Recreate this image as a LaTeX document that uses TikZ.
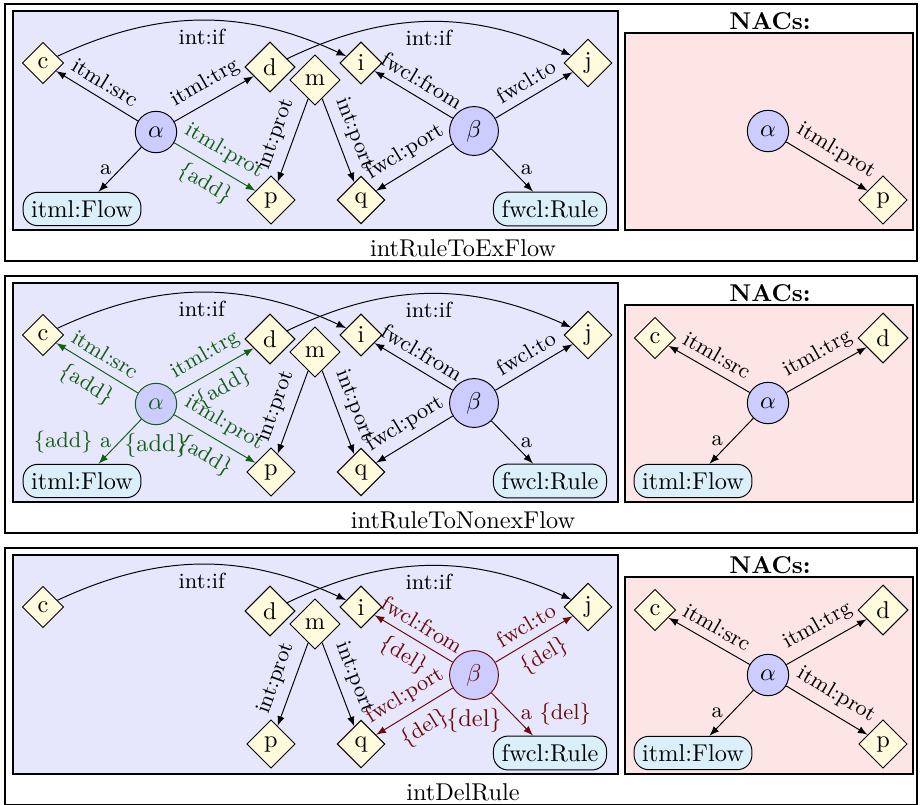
\documentclass[tikz,border=0pt]{standalone}
\usetikzlibrary{shapes.geometric}
\definecolor{hostbg}{RGB}{230,230,252}
\definecolor{nacbg}{RGB}{253,229,229}
\definecolor{objfill}{RGB}{255,251,220}
\definecolor{actfill}{RGB}{204,204,255}
\definecolor{clsfill}{RGB}{219,239,250}
\definecolor{addcol}{RGB}{20,95,20}
\definecolor{delcol}{RGB}{110,10,10}
\begin{document}
\begin{tikzpicture}[
  x=0.4115pt, y=-0.4115pt, >=latex,
  panel/.style={draw, line width=0.8pt},
  hostbox/.style={draw, line width=1.2pt, fill=hostbg},
  nacbox/.style={draw, line width=1.2pt, fill=nacbg},
  objnode/.style={draw, diamond, fill=objfill, inner sep=2pt},
  actnode/.style={draw, circle, fill=actfill},
  clsnode/.style={draw, rounded corners=6pt, fill=clsfill},
  elbl/.style={font=\small, sloped},
  tlbl/.style={font=\small}
]
\useasboundingbox (0,0) rectangle (921,804);

% intRuleToExFlow
\draw[panel] (5,4) rectangle (917,261);
\draw[hostbox] (13,11) rectangle (618,230);
\draw[nacbox] (625,33) rectangle (913,230);
\node[font=\bfseries] (nacs1) at (770,21) {NACs:};
\node (name1) at (463,248) {intRuleToExFlow};

\node[objnode] (c1) at (43,63) {c};
\node[objnode] (d1) at (270,67) {d};
\node[objnode] (m1) at (315,80) {m};
\node[objnode] (i1) at (361,63) {i};
\node[objnode] (j1) at (588,63) {j};
\node[objnode] (p1) at (271,200) {p};
\node[objnode] (q1) at (361,200) {q};
\node[actnode] (alpha1) at (156,132) {$\alpha$};
\node[actnode] (beta1) at (474,131) {$\beta$};
\node[clsnode] (flow1) at (82,209) {itml:Flow};
\node[clsnode] (rule1) at (550,209) {fwcl:Rule};

\draw[->] (c1) to[bend left=25] node[tlbl, below] {int:if} (i1);
\draw[->] (d1) to[bend left=25] node[tlbl, below] {int:if} (j1);
\draw[->] (alpha1) -- node[elbl, above] {itml:src} (c1);
\draw[->] (alpha1) -- node[elbl, above] {itml:trg} (d1);
\draw[->, addcol] (alpha1) -- node[elbl, above] {itml:prot} node[elbl, below] {\{add\}} (p1);
\draw[->] (alpha1) -- node[tlbl, left] {a} (flow1);
\draw[->] (m1) -- node[elbl, above] {int:prot} (p1);
\draw[->] (m1) -- node[elbl, above] {int:port} (q1);
\draw[->] (beta1) -- node[elbl, above] {fwcl:from} (i1);
\draw[->] (beta1) -- node[elbl, above] {fwcl:to} (j1);
\draw[->] (beta1) -- node[elbl, above] {fwcl:port} (q1);
\draw[->] (beta1) -- node[tlbl, right] {a} (rule1);

\node[actnode] (nalpha1) at (768,131) {$\alpha$};
\node[objnode] (np1) at (883,200) {p};
\draw[->] (nalpha1) -- node[elbl, above] {itml:prot} (np1);

% intRuleToNonexFlow
\begin{scope}[shift={(0,272)}]
\draw[panel] (5,4) rectangle (917,261);
\draw[hostbox] (13,11) rectangle (618,230);
\draw[nacbox] (625,33) rectangle (913,230);
\node[font=\bfseries] (nacs2) at (770,21) {NACs:};
\node (name2) at (463,248) {intRuleToNonexFlow};

\node[objnode] (c2) at (43,63) {c};
\node[objnode] (d2) at (270,67) {d};
\node[objnode] (m2) at (315,80) {m};
\node[objnode] (i2) at (361,63) {i};
\node[objnode] (j2) at (588,63) {j};
\node[objnode] (p2) at (271,200) {p};
\node[objnode] (q2) at (361,200) {q};
\node[actnode, draw=addcol, text=addcol, label={[addcol]below:\{add\}}] (alpha2) at (156,132) {$\alpha$};
\node[actnode] (beta2) at (474,131) {$\beta$};
\node[clsnode] (flow2) at (82,209) {itml:Flow};
\node[clsnode] (rule2) at (550,209) {fwcl:Rule};

\draw[->] (c2) to[bend left=25] node[tlbl, below] {int:if} (i2);
\draw[->] (d2) to[bend left=25] node[tlbl, below] {int:if} (j2);
\draw[->, addcol] (alpha2) -- node[elbl, above] {itml:src} node[elbl, below] {\{add\}} (c2);
\draw[->, addcol] (alpha2) -- node[elbl, above] {itml:trg} node[elbl, below] {\{add\}} (d2);
\draw[->, addcol] (alpha2) -- node[elbl, above] {itml:prot} node[elbl, below] {\{add\}} (p2);
\draw[->, addcol] (alpha2) -- node[tlbl, left] {\{add\} a} (flow2);
\draw[->] (m2) -- node[elbl, above] {int:prot} (p2);
\draw[->] (m2) -- node[elbl, above] {int:port} (q2);
\draw[->] (beta2) -- node[elbl, above] {fwcl:from} (i2);
\draw[->] (beta2) -- node[elbl, above] {fwcl:to} (j2);
\draw[->] (beta2) -- node[elbl, above] {fwcl:port} (q2);
\draw[->] (beta2) -- node[tlbl, right] {a} (rule2);

\node[objnode] (nc2) at (655,66) {c};
\node[objnode] (nd2) at (883,66) {d};
\node[actnode] (nalpha2) at (768,131) {$\alpha$};
\node[clsnode] (nflow2) at (693,209) {itml:Flow};
\draw[->] (nalpha2) -- node[elbl, above] {itml:src} (nc2);
\draw[->] (nalpha2) -- node[elbl, above] {itml:trg} (nd2);
\draw[->] (nalpha2) -- node[tlbl, left] {a} (nflow2);
\end{scope}

% intDelRule
\begin{scope}[shift={(0,544)}]
\draw[panel] (5,4) rectangle (917,261);
\draw[hostbox] (13,11) rectangle (618,230);
\draw[nacbox] (625,33) rectangle (913,230);
\node[font=\bfseries] (nacs3) at (770,21) {NACs:};
\node (name3) at (463,248) {intDelRule};

\node[objnode] (c3) at (43,63) {c};
\node[objnode] (d3) at (270,67) {d};
\node[objnode] (m3) at (315,80) {m};
\node[objnode] (i3) at (361,63) {i};
\node[objnode] (j3) at (588,63) {j};
\node[objnode] (p3) at (271,200) {p};
\node[objnode] (q3) at (361,200) {q};
\node[actnode, draw=delcol, text=delcol, label={[delcol]below:\{del\}}] (beta3) at (474,131) {$\beta$};
\node[clsnode] (rule3) at (550,209) {fwcl:Rule};

\draw[->] (c3) to[bend left=25] node[tlbl, below] {int:if} (i3);
\draw[->] (d3) to[bend left=25] node[tlbl, below] {int:if} (j3);
\draw[->] (m3) -- node[elbl, above] {int:prot} (p3);
\draw[->] (m3) -- node[elbl, above] {int:port} (q3);
\draw[->, delcol] (beta3) -- node[elbl, above] {fwcl:from} node[elbl, below] {\{del\}} (i3);
\draw[->, delcol] (beta3) -- node[elbl, above] {fwcl:to} node[elbl, below] {\{del\}} (j3);
\draw[->, delcol] (beta3) -- node[elbl, above] {fwcl:port} node[elbl, below] {\{del\}} (q3);
\draw[->, delcol] (beta3) -- node[tlbl, right] {a \{del\}} (rule3);

\node[objnode] (nc3) at (655,66) {c};
\node[objnode] (nd3) at (883,66) {d};
\node[actnode] (nalpha3) at (768,131) {$\alpha$};
\node[objnode] (np3) at (883,200) {p};
\node[clsnode] (nflow3) at (693,209) {itml:Flow};
\draw[->] (nalpha3) -- node[elbl, above] {itml:src} (nc3);
\draw[->] (nalpha3) -- node[elbl, above] {itml:trg} (nd3);
\draw[->] (nalpha3) -- node[elbl, above] {itml:prot} (np3);
\draw[->] (nalpha3) -- node[tlbl, left] {a} (nflow3);
\end{scope}
\end{tikzpicture}
\end{document}
